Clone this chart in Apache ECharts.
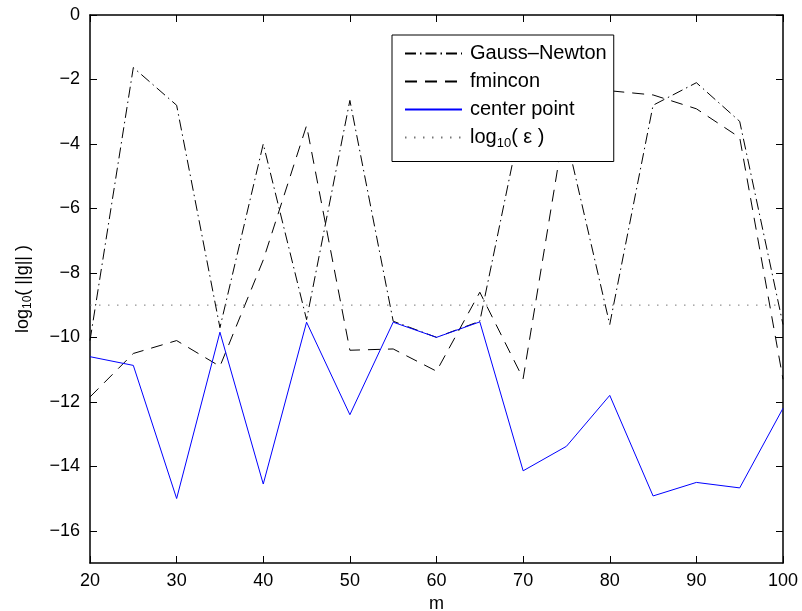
<!DOCTYPE html>
<html>
<head>
<meta charset="utf-8">
<script src="https://cdn.jsdelivr.net/npm/echarts@6/dist/echarts.min.js"></script>
<style>
html,body{margin:0;padding:0;background:#fff;}
#c{width:802px;height:611px;}
</style>
</head>
<body>
<div id="c"></div>
<script>
// ---- data ----
var mValues = [20, 25, 30, 35, 40, 45, 50, 55, 60, 65, 70, 75, 80, 85, 90, 95, 100];
var gaussNewton = [-10.1, -1.63, -2.8, -9.7, -4.0, -9.45, -2.65, -9.5, -10.0, -9.5, -3.0, -3.8, -9.6, -2.8, -2.1, -3.3, -9.6];
var fmincon = [-11.85, -10.5, -10.1, -10.9, -7.6, -3.43, -10.4, -10.36, -11.05, -8.6, -11.28, -3.1, -2.35, -2.48, -2.91, -3.8, -11.3];
var centerPoint = [-10.6, -10.87, -15.0, -9.84, -14.55, -9.53, -12.4, -9.53, -10.0, -9.52, -14.14, -13.38, -11.8, -14.92, -14.5, -14.67, -12.2];
var logEps = -9;
var xTicks = [20, 30, 40, 50, 60, 70, 80, 90, 100];
var yTicks = [0, -2, -4, -6, -8, -10, -12, -14, -16];
var seriesNames = ['Gauss\u2013Newton', 'fmincon', 'center point', 'log10eps'];

function pairs(xs, ys) { return xs.map(function (x, i) { return [x, ys[i]]; }); }
function fmt(v) { return v < 0 ? '\u2212' + Math.abs(v) : String(v); }

var FONT = 'Liberation Sans, Arial, Helvetica, sans-serif';
var chart = echarts.init(document.getElementById('c'), null, {renderer: 'canvas'});

var axisLineStyle = {color: '#000', width: 1.5};
var tickStyle = {color: '#000', width: 1};
var option = {
  animation: false,
  backgroundColor: '#fff',
  textStyle: {fontFamily: FONT},
  grid: {left: 90, right: 19, top: 15, bottom: 48, containLabel: false, outerBoundsMode: 'none'},
  xAxis: [{
    type: 'value', min: 20, max: 100, interval: 10, position: 'bottom',
    name: 'm', nameLocation: 'middle', nameGap: 30,
    nameTextStyle: {color: '#000', fontSize: 18, fontFamily: FONT},
    axisLine: {show: true, onZero: false, lineStyle: axisLineStyle},
    axisTick: {show: true, inside: true, length: 7, customValues: xTicks, lineStyle: tickStyle},
    axisLabel: {color: '#000', fontSize: 18, fontFamily: FONT, margin: 9, customValues: xTicks, formatter: fmt},
    splitLine: {show: false}
  }, {
    type: 'value', min: 20, max: 100, interval: 10, position: 'top',
    axisLine: {show: true, onZero: false, lineStyle: axisLineStyle},
    axisTick: {show: true, inside: true, length: 7, customValues: xTicks, lineStyle: tickStyle},
    axisLabel: {show: false}, splitLine: {show: false}
  }],
  yAxis: [{
    type: 'value', min: -17, max: 0, position: 'left',
    name: 'log{sub|10}( ||g|| )', nameLocation: 'middle', nameGap: 56, nameRotate: 90,
    nameTextStyle: {color: '#000', fontSize: 18, fontFamily: FONT,
      rich: {sub: {fontSize: 12, fontFamily: FONT, color: '#000', padding: [9, 0, 0, 0]}}},
    axisLine: {show: true, onZero: false, lineStyle: axisLineStyle},
    axisTick: {show: true, inside: true, length: 7, customValues: yTicks, lineStyle: tickStyle},
    axisLabel: {color: '#000', fontSize: 18, fontFamily: FONT, margin: 10, customValues: yTicks, formatter: fmt},
    splitLine: {show: false}
  }, {
    type: 'value', min: -17, max: 0, position: 'right',
    axisLine: {show: true, onZero: false, lineStyle: axisLineStyle},
    axisTick: {show: true, inside: true, length: 7, customValues: yTicks, lineStyle: tickStyle},
    axisLabel: {show: false}, splitLine: {show: false}
  }],
  legend: {
    orient: 'vertical', left: 392, top: 35,
    backgroundColor: '#fff', borderColor: '#000', borderWidth: 1,
    padding: [8, 7, 12, 12], itemGap: 7, itemWidth: 57, itemHeight: 14,
    data: seriesNames,
    itemStyle: {color: 'rgba(0,0,0,0)', borderColor: 'rgba(0,0,0,0)', borderWidth: 0},
    textStyle: {color: '#000', fontSize: 20, fontFamily: FONT, lineHeight: 21, padding: [0, 0, 0, 3],
      rich: {sub: {fontSize: 13, fontFamily: FONT, color: '#000', padding: [11, 0, 0, 0]},
             t: {fontSize: 20, fontFamily: FONT, color: '#000'}}},
    formatter: function (n) { return n === 'log10eps' ? '{t|log}{sub|10}{t|( \u03b5 )}' : n; },
    selectedMode: false
  },
  series: [{
    name: seriesNames[0], type: 'line', symbol: 'none',
    data: pairs(mValues, gaussNewton),
    lineStyle: {color: '#000', width: 1, type: [11, 4, 1.5, 4]}, z: 2
  }, {
    name: seriesNames[1], type: 'line', symbol: 'none',
    data: pairs(mValues, fmincon),
    lineStyle: {color: '#000', width: 1, type: [12, 8]}, z: 3
  }, {
    name: seriesNames[2], type: 'line', symbol: 'none',
    data: pairs(mValues, centerPoint),
    lineStyle: {color: '#0000ff', width: 1, type: 'solid'}, z: 4
  }, {
    name: seriesNames[3], type: 'line', symbol: 'none',
    data: pairs(mValues, mValues.map(function () { return logEps; })),
    lineStyle: {color: '#777', width: 1, type: [1.5, 7.5]}, z: 5
  }]
};
chart.setOption(option);
</script>
</body>
</html>
